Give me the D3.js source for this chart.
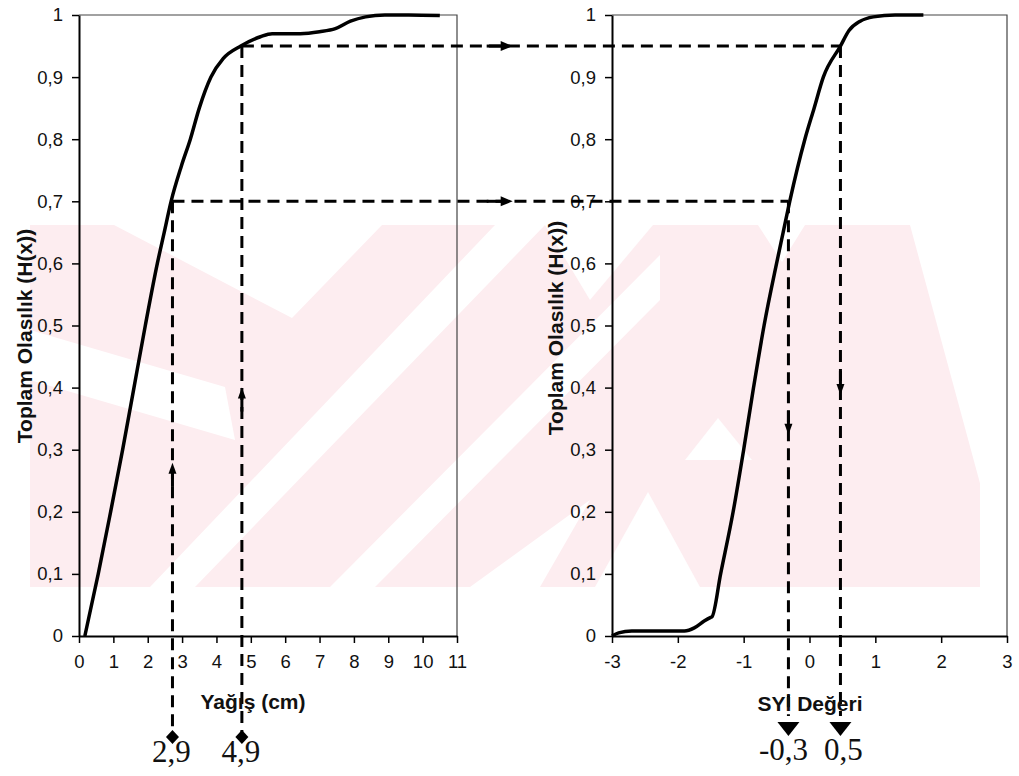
<!DOCTYPE html>
<html lang="tr">
<head>
<meta charset="UTF-8">
<title>Yağış - SYİ dönüşümü</title>
<style>
  html, body { margin: 0; padding: 0; background: #fff; }
  svg { display: block; }
  .tick text { font-family: "Liberation Sans", Arial, sans-serif; font-size: 18.5px; fill: #111; }
  .baslik { font-family: "Liberation Sans", Arial, sans-serif; font-weight: bold; font-size: 21px; fill: #111; }
  .deger { font-family: "Liberation Serif", "Times New Roman", serif; font-size: 31px; fill: #111; }
</style>
</head>
<body>
<svg id="chart" width="1019" height="776"></svg>
<script src="https://d3js.org/d3.v7.min.js"></script>
<script>
  // sol grafik: yağış (cm) ve toplam olasılık
  const yagisX = [0.17, 0.56, 0.92, 1.27, 1.6, 1.93, 2.28, 2.48, 2.68, 2.98, 3.24, 3.5, 3.84, 4.2, 4.71, 5.28, 5.62, 6.0, 6.44, 7.0, 7.46, 7.9, 8.34, 8.9, 9.6, 10.5];
  const yagisH = [0, 0.1, 0.2, 0.3, 0.4, 0.5, 0.6, 0.65, 0.7, 0.757, 0.8, 0.85, 0.9, 0.93, 0.95, 0.965, 0.97, 0.97, 0.97, 0.973, 0.978, 0.99, 0.997, 1.0, 1.0, 0.999];

  // sağ grafik: SYİ değeri ve toplam olasılık
  const syiX = [-3, -2.9, -2.7, -2.3, -1.9, -1.75, -1.6, -1.5, -1.48, -1.35, -1.16, -1.0, -0.85, -0.69, -0.5, -0.4, -0.3, -0.07, 0.07, 0.21, 0.47, 0.6, 0.77, 0.97, 1.3, 1.73];
  const syiH = [0, 0.005, 0.008, 0.008, 0.008, 0.013, 0.024, 0.03, 0.031, 0.1, 0.2, 0.3, 0.4, 0.5, 0.6, 0.65, 0.7, 0.8, 0.85, 0.9, 0.95, 0.975, 0.99, 0.997, 1.0, 1.0];

  const yTicks = [0, 0.1, 0.2, 0.3, 0.4, 0.5, 0.6, 0.7, 0.8, 0.9, 1];
  const yagisTicks = [0, 1, 2, 3, 4, 5, 6, 7, 8, 9, 10, 11];
  const syiTicks = [-3, -2, -1, 0, 1, 2, 3];

  // okuma çizgileri
  const olasilik = [0.7, 0.95];
  const yagisOkuma = [2.72, 4.74];      // çizginin resimdeki yeri
  const yagisEtiket = ["2,9", "4,9"];
  const syiOkuma = [-0.32, 0.47];
  const syiEtiket = ["-0,3", "0,5"];
  const yukariOk = [0.279, 0.4];        // sol dikey çizgilerdeki oklar
  const asagiOk = [0.324, 0.388];       // sağ dikey çizgilerdeki oklar
  const yatayOk = 12.62;                // yatay oklar (sol ölçekte)

  const svg = d3.select("#chart");

  const xL = d3.scaleLinear().domain([0, 11]).range([79, 457]);
  const xR = d3.scaleLinear().domain([-3, 3]).range([612, 1007]);
  const y = d3.scaleLinear().domain([0, 1]).range([636, 15]);

  // --- filigran (soluk pembe) ---
  const wm = svg.append("g");
  wm.append("clipPath").attr("id", "wmclip")
    .append("rect").attr("x", 30).attr("y", 225).attr("width", 950).attr("height", 362);
  const wmg = wm.append("g").attr("clip-path", "url(#wmclip)");
  wmg.append("rect").attr("x", 30).attr("y", 225).attr("width", 950).attr("height", 362).attr("fill", "#fdedf0");
  const beyaz = [
    [[114, 225], [382, 225], [292, 318]],
    [[150, 587], [195, 587], [545, 225], [495, 225]],
    [[30, 330], [225, 387], [235, 440], [30, 380]],
    [[330, 587], [375, 587], [660, 300], [660, 255]],
    [[545, 225], [653, 225], [590, 300]],
    [[758, 225], [805, 225], [782, 262]],
    [[910, 225], [990, 225], [990, 520]],
    [[685, 460], [718, 418], [752, 460]],
    [[595, 587], [648, 492], [700, 587]],
    [[470, 587], [540, 587], [590, 500]]
  ];
  wmg.selectAll("polygon").data(beyaz).join("polygon")
    .attr("points", d => d.join(" "))
    .attr("fill", "#fff");

  // --- çerçeveler ---
  [xL, xR].forEach(sx => {
    svg.append("path")
      .attr("d", `M${sx.range()[0]},${y(1)}H${sx.range()[1]}V${y(0)}`)
      .attr("fill", "none").attr("stroke", "#444").attr("stroke-width", 1.2);
  });

  const fmt = d => (d % 1 === 0 ? String(d) : d.toFixed(1).replace(".", ","));

  function eksenler(sx, ticks) {
    const gx = svg.append("g").attr("transform", `translate(0,${y(0)})`)
      .call(d3.axisBottom(sx).tickValues(ticks).tickFormat(d => String(d)).tickSize(7).tickPadding(15).tickSizeOuter(0));
    const gy = svg.append("g").attr("transform", `translate(${sx.range()[0]},0)`)
      .call(d3.axisLeft(y).tickValues(yTicks).tickFormat(fmt).tickSize(7).tickPadding(9).tickSizeOuter(0));
    [gx, gy].forEach(g => {
      g.select(".domain").attr("stroke", "#000").attr("stroke-width", 2);
      g.selectAll(".tick line").attr("stroke", "#000").attr("stroke-width", 1.5);
    });
    gx.selectAll(".tick text").attr("dy", "0.55em");
  }
  eksenler(xL, yagisTicks);
  eksenler(xR, syiTicks);

  // --- eğriler ---
  const cizgiL = d3.line().x((d, i) => xL(yagisX[i])).y(d => y(d)).curve(d3.curveMonotoneX);
  const cizgiR = d3.line().x((d, i) => xR(syiX[i])).y(d => y(d)).curve(d3.curveMonotoneX);
  svg.append("path").attr("d", cizgiL(yagisH)).attr("fill", "none").attr("stroke", "#000").attr("stroke-width", 3.5);
  svg.append("path").attr("d", cizgiR(syiH)).attr("fill", "none").attr("stroke", "#000").attr("stroke-width", 3.5);

  // --- kesikli okuma çizgileri ---
  const kesik = svg.append("g").attr("fill", "none").attr("stroke", "#000")
    .attr("stroke-width", 3).attr("stroke-dasharray", "12 7");
  olasilik.forEach((p, i) => {
    kesik.append("line").attr("x1", xL(yagisOkuma[i])).attr("x2", xR(syiOkuma[i]))
      .attr("y1", y(p)).attr("y2", y(p));
    kesik.append("line").attr("x1", xL(yagisOkuma[i])).attr("x2", xL(yagisOkuma[i]))
      .attr("y1", y(p)).attr("y2", 732);
    kesik.append("line").attr("x1", xR(syiOkuma[i])).attr("x2", xR(syiOkuma[i]))
      .attr("y1", y(p)).attr("y2", 716);
  });

  const oklar = svg.append("g").attr("fill", "#000");
  olasilik.forEach((p, i) => {
    // sağa ok
    const ax = xL(yatayOk), ay = y(p);
    oklar.append("polygon").attr("points", `${ax},${ay} ${ax - 12},${ay - 5} ${ax - 12},${ay + 5}`);
    oklar.append("rect").attr("x", ax - 26).attr("y", ay - 1.5).attr("width", 16).attr("height", 3);
    // sol grafikte yukarı ok
    const ux = xL(yagisOkuma[i]), uy = y(yukariOk[i]);
    oklar.append("polygon").attr("points", `${ux},${uy} ${ux - 4},${uy + 11} ${ux + 4},${uy + 11}`);
    oklar.append("rect").attr("x", ux - 1.5).attr("y", uy + 8).attr("width", 3).attr("height", 16);
    // sağ grafikte aşağı ok
    const dx = xR(syiOkuma[i]), dy = y(asagiOk[i]);
    oklar.append("polygon").attr("points", `${dx},${dy} ${dx - 4},${dy - 11} ${dx + 4},${dy - 11}`);
    oklar.append("rect").attr("x", dx - 1.5).attr("y", dy - 24).attr("width", 3).attr("height", 16);
    // alt uçlar
    const lx = xL(yagisOkuma[i]);
    oklar.append("polygon").attr("points", `${lx},${730} ${lx + 6.5},${737} ${lx},${744} ${lx - 6.5},${737}`);
    const rx = xR(syiOkuma[i]);
    oklar.append("polygon").attr("points", `${rx - 11},${722} ${rx + 11},${722} ${rx},${736}`);
  });

  // --- değer etiketleri ---
  yagisEtiket.forEach((t, i) => {
    svg.append("text").attr("class", "deger").attr("x", xL(yagisOkuma[i]) - 1).attr("y", 762)
      .attr("text-anchor", "middle").text(t);
  });
  syiEtiket.forEach((t, i) => {
    svg.append("text").attr("class", "deger").attr("x", xR(syiOkuma[i]) - 5 + i * 8).attr("y", 760)
      .attr("text-anchor", "middle").text(t);
  });

  // --- eksen başlıkları ---
  svg.append("text").attr("class", "baslik").attr("x", 253).attr("y", 709).attr("text-anchor", "middle").text("Yağış (cm)");
  svg.append("text").attr("class", "baslik").attr("x", 810).attr("y", 711).attr("text-anchor", "middle").text("SYİ Değeri");
  svg.append("text").attr("class", "baslik").attr("text-anchor", "middle")
    .attr("transform", "translate(32,336) rotate(-90)").text("Toplam Olasılık (H(x))");
  svg.append("text").attr("class", "baslik").attr("text-anchor", "middle")
    .attr("transform", "translate(563,328) rotate(-90)").text("Toplam Olasılık (H(x))");
</script>
</body>
</html>
